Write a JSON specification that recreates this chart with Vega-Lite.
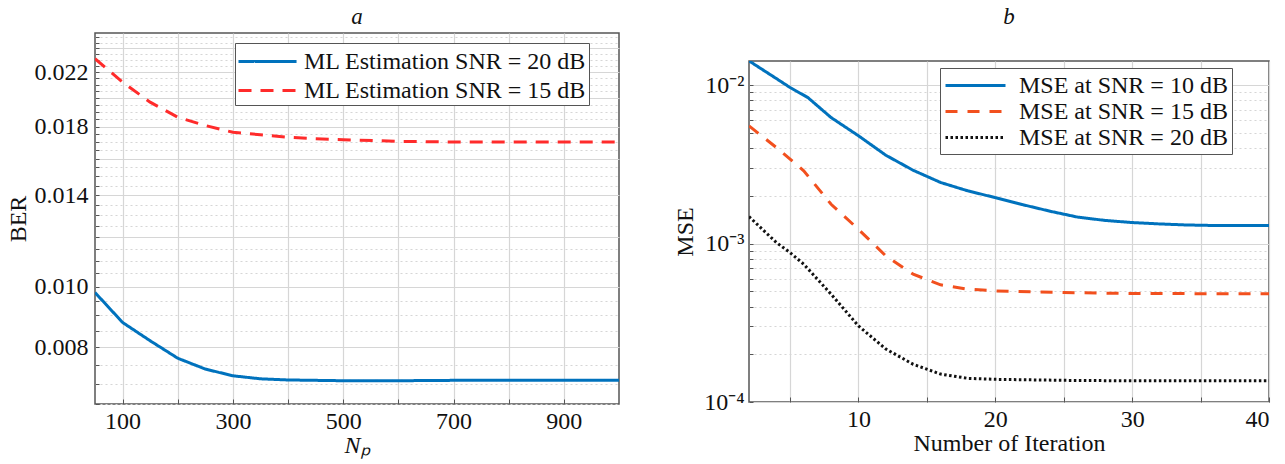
{
  "$schema": "https://vega.github.io/schema/vega-lite/v6.json",
  "background": "white",
  "padding": {"left": 5, "top": 5, "right": 5, "bottom": 5},
  "config": {
    "font": "Liberation Serif",
    "view": {"stroke": "#555555", "strokeWidth": 1.5},
    "axis": {
      "labelFont": "Liberation Serif", "titleFont": "Liberation Serif",
      "labelFontSize": 24, "titleFontSize": 24, "titleFontWeight": "normal",
      "labelColor": "#111111", "titleColor": "#111111",
      "domain": false, "tickColor": "#555555", "tickWidth": 1,
      "gridColor": "#d6d6d6", "gridOpacity": 1, "gridWidth": 1.2
    },
    "title": {"font": "Liberation Serif", "fontSize": 23, "fontStyle": "italic", "fontWeight": "normal", "color": "#111111"},
    "legend": {
      "labelFont": "Liberation Serif", "labelFontSize": 24, "labelColor": "#111111",
      "fillColor": "white", "strokeColor": "#555555",
      "symbolStrokeWidth": 3,
      "labelLimit": 600, "orient": "none"
    },
    "concat": {"spacing": 52}
  },
  "resolve": {"scale": {"color": "independent", "strokeDash": "independent"}},
  "datasets": {
    "ber": [
      {"Np": 50, "BER": 0.00979, "series": "ML Estimation SNR = 20 dB"},
      {"Np": 100, "BER": 0.00877, "series": "ML Estimation SNR = 20 dB"},
      {"Np": 150, "BER": 0.0082, "series": "ML Estimation SNR = 20 dB"},
      {"Np": 200, "BER": 0.00769, "series": "ML Estimation SNR = 20 dB"},
      {"Np": 250, "BER": 0.00739, "series": "ML Estimation SNR = 20 dB"},
      {"Np": 300, "BER": 0.00721, "series": "ML Estimation SNR = 20 dB"},
      {"Np": 350, "BER": 0.00713, "series": "ML Estimation SNR = 20 dB"},
      {"Np": 400, "BER": 0.0071, "series": "ML Estimation SNR = 20 dB"},
      {"Np": 450, "BER": 0.00709, "series": "ML Estimation SNR = 20 dB"},
      {"Np": 500, "BER": 0.00708, "series": "ML Estimation SNR = 20 dB"},
      {"Np": 600, "BER": 0.00708, "series": "ML Estimation SNR = 20 dB"},
      {"Np": 700, "BER": 0.00709, "series": "ML Estimation SNR = 20 dB"},
      {"Np": 800, "BER": 0.00709, "series": "ML Estimation SNR = 20 dB"},
      {"Np": 900, "BER": 0.00709, "series": "ML Estimation SNR = 20 dB"},
      {"Np": 1000, "BER": 0.00709, "series": "ML Estimation SNR = 20 dB"},
      {"Np": 50, "BER": 0.02311, "series": "ML Estimation SNR = 15 dB"},
      {"Np": 100, "BER": 0.0212, "series": "ML Estimation SNR = 15 dB"},
      {"Np": 150, "BER": 0.0197, "series": "ML Estimation SNR = 15 dB"},
      {"Np": 200, "BER": 0.01864, "series": "ML Estimation SNR = 15 dB"},
      {"Np": 250, "BER": 0.01808, "series": "ML Estimation SNR = 15 dB"},
      {"Np": 300, "BER": 0.01764, "series": "ML Estimation SNR = 15 dB"},
      {"Np": 350, "BER": 0.01748, "series": "ML Estimation SNR = 15 dB"},
      {"Np": 400, "BER": 0.01732, "series": "ML Estimation SNR = 15 dB"},
      {"Np": 450, "BER": 0.01722, "series": "ML Estimation SNR = 15 dB"},
      {"Np": 500, "BER": 0.01716, "series": "ML Estimation SNR = 15 dB"},
      {"Np": 600, "BER": 0.01706, "series": "ML Estimation SNR = 15 dB"},
      {"Np": 700, "BER": 0.01702, "series": "ML Estimation SNR = 15 dB"},
      {"Np": 800, "BER": 0.01702, "series": "ML Estimation SNR = 15 dB"},
      {"Np": 900, "BER": 0.01702, "series": "ML Estimation SNR = 15 dB"},
      {"Np": 1000, "BER": 0.01702, "series": "ML Estimation SNR = 15 dB"}
    ],
    "mse": [
      {"it": 2, "MSE": 0.01422, "series": "MSE at SNR = 10 dB"},
      {"it": 4, "MSE": 0.0110, "series": "MSE at SNR = 10 dB"},
      {"it": 5, "MSE": 0.00966, "series": "MSE at SNR = 10 dB"},
      {"it": 6.3, "MSE": 0.00835, "series": "MSE at SNR = 10 dB"},
      {"it": 8, "MSE": 0.00624, "series": "MSE at SNR = 10 dB"},
      {"it": 10, "MSE": 0.00479, "series": "MSE at SNR = 10 dB"},
      {"it": 12, "MSE": 0.00361, "series": "MSE at SNR = 10 dB"},
      {"it": 14, "MSE": 0.0029, "series": "MSE at SNR = 10 dB"},
      {"it": 16, "MSE": 0.00243, "series": "MSE at SNR = 10 dB"},
      {"it": 18, "MSE": 0.00215, "series": "MSE at SNR = 10 dB"},
      {"it": 20, "MSE": 0.00195, "series": "MSE at SNR = 10 dB"},
      {"it": 22, "MSE": 0.00176, "series": "MSE at SNR = 10 dB"},
      {"it": 24, "MSE": 0.0016, "series": "MSE at SNR = 10 dB"},
      {"it": 26, "MSE": 0.00147, "series": "MSE at SNR = 10 dB"},
      {"it": 28, "MSE": 0.0014, "series": "MSE at SNR = 10 dB"},
      {"it": 30, "MSE": 0.001357, "series": "MSE at SNR = 10 dB"},
      {"it": 32, "MSE": 0.00133, "series": "MSE at SNR = 10 dB"},
      {"it": 34, "MSE": 0.00131, "series": "MSE at SNR = 10 dB"},
      {"it": 36, "MSE": 0.0013, "series": "MSE at SNR = 10 dB"},
      {"it": 38, "MSE": 0.0013, "series": "MSE at SNR = 10 dB"},
      {"it": 40, "MSE": 0.0013, "series": "MSE at SNR = 10 dB"},
      {"it": 2, "MSE": 0.00553, "series": "MSE at SNR = 15 dB"},
      {"it": 4, "MSE": 0.00404, "series": "MSE at SNR = 15 dB"},
      {"it": 6, "MSE": 0.00288, "series": "MSE at SNR = 15 dB"},
      {"it": 8, "MSE": 0.00177, "series": "MSE at SNR = 15 dB"},
      {"it": 10, "MSE": 0.00123, "series": "MSE at SNR = 15 dB"},
      {"it": 12, "MSE": 0.000836, "series": "MSE at SNR = 15 dB"},
      {"it": 14, "MSE": 0.00064, "series": "MSE at SNR = 15 dB"},
      {"it": 16, "MSE": 0.000549, "series": "MSE at SNR = 15 dB"},
      {"it": 18, "MSE": 0.000515, "series": "MSE at SNR = 15 dB"},
      {"it": 20, "MSE": 0.000503, "series": "MSE at SNR = 15 dB"},
      {"it": 25, "MSE": 0.000491, "series": "MSE at SNR = 15 dB"},
      {"it": 30, "MSE": 0.000484, "series": "MSE at SNR = 15 dB"},
      {"it": 35, "MSE": 0.000483, "series": "MSE at SNR = 15 dB"},
      {"it": 40, "MSE": 0.000483, "series": "MSE at SNR = 15 dB"},
      {"it": 2, "MSE": 0.00148, "series": "MSE at SNR = 20 dB"},
      {"it": 4, "MSE": 0.001015, "series": "MSE at SNR = 20 dB"},
      {"it": 5, "MSE": 0.000877, "series": "MSE at SNR = 20 dB"},
      {"it": 6, "MSE": 0.000741, "series": "MSE at SNR = 20 dB"},
      {"it": 8, "MSE": 0.000479, "series": "MSE at SNR = 20 dB"},
      {"it": 10, "MSE": 0.000302, "series": "MSE at SNR = 20 dB"},
      {"it": 12, "MSE": 0.000216, "series": "MSE at SNR = 20 dB"},
      {"it": 14, "MSE": 0.000173, "series": "MSE at SNR = 20 dB"},
      {"it": 16, "MSE": 0.00015, "series": "MSE at SNR = 20 dB"},
      {"it": 18, "MSE": 0.000141, "series": "MSE at SNR = 20 dB"},
      {"it": 20, "MSE": 0.000139, "series": "MSE at SNR = 20 dB"},
      {"it": 25, "MSE": 0.000137, "series": "MSE at SNR = 20 dB"},
      {"it": 30, "MSE": 0.000136, "series": "MSE at SNR = 20 dB"},
      {"it": 35, "MSE": 0.000136, "series": "MSE at SNR = 20 dB"},
      {"it": 40, "MSE": 0.000136, "series": "MSE at SNR = 20 dB"}
    ]
  },
  "hconcat": [
    {
      "title": {"text": "a", "offset": 4},
      "width": 524,
      "height": 371,
      "data": {"name": "ber"},
      "mark": {"type": "line", "strokeWidth": 3, "clip": true},
      "encoding": {
        "x": {
          "field": "Np", "type": "quantitative",
          "scale": {"domain": [50, 1000], "nice": false},
          "axis": {
            "title": "Nₚ", "titleFontStyle": "italic", "titlePadding": 0,
            "values": [100, 200, 300, 400, 500, 600, 700, 800, 900],
            "labelExpr": "datum.value % 200 == 100 ? datum.label : ''",
            "tickSize": -5, "labelPadding": 10
          }
        },
        "y": {
          "field": "BER", "type": "quantitative",
          "scale": {"type": "log", "domain": [0.0065, 0.0254], "nice": false},
          "axis": {
            "title": "BER", "titlePadding": 4,
            "values": [0.0065, 0.007, 0.0075, 0.008, 0.0085, 0.009, 0.0095, 0.01, 0.0105, 0.011, 0.0115, 0.012, 0.0125, 0.013, 0.0135, 0.014, 0.0145, 0.015, 0.0155, 0.016, 0.0165, 0.017, 0.0175, 0.018, 0.0185, 0.019, 0.0195, 0.02, 0.0205, 0.021, 0.0215, 0.022, 0.0225, 0.023, 0.0235, 0.024, 0.0245, 0.025],
            "labelExpr": "indexof([0.008, 0.01, 0.014, 0.018, 0.022], datum.value) >= 0 ? format(datum.value, '.3f') : ''",
            "tickSize": -4, "labelPadding": 11,
            "gridDash": {"condition": {"test": "indexof([0.008, 0.01, 0.012, 0.014, 0.016, 0.018, 0.02, 0.022, 0.024], datum.value) >= 0", "value": []}, "value": [2, 3]}
          }
        },
        "color": {
          "field": "series", "type": "nominal",
          "scale": {"domain": ["ML Estimation SNR = 20 dB", "ML Estimation SNR = 15 dB"], "range": ["#0072BD", "#FF2B2B"]},
          "legend": {"title": null, "legendX": 140, "legendY": 10, "padding": 2, "rowPadding": -1, "symbolType": "M-1,0H2.87", "symbolSize": 900, "labelOffset": 34, "labelFont": "Liberation Serif"}
        },
        "strokeDash": {
          "field": "series", "type": "nominal",
          "scale": {"domain": ["ML Estimation SNR = 20 dB", "ML Estimation SNR = 15 dB"], "range": [[1, 0], [13, 9]]},
          "legend": {"title": null, "legendX": 140, "legendY": 10, "padding": 2, "rowPadding": -1, "symbolType": "M-1,0H2.87", "symbolSize": 900, "labelOffset": 34, "labelFont": "Liberation Serif"}
        }
      }
    },
    {
      "spacing": 0,
      "vconcat": [
        {
          "title": {"text": "b", "offset": 4},
          "width": 520,
          "height": 27,
          "view": {"stroke": null},
          "data": {"values": [{"t": ""}]},
          "mark": {"type": "text"},
          "encoding": {"text": {"field": "t"}}
        },
        {
          "width": 520,
          "height": 341,
          "data": {"name": "mse"},
          "mark": {"type": "line", "strokeWidth": 3, "clip": true},
          "encoding": {
            "x": {
              "field": "it", "type": "quantitative",
              "scale": {"domain": [2, 40], "nice": false},
              "axis": {
                "title": "Number of Iteration", "titlePadding": 0,
                "values": [5, 10, 15, 20, 25, 30, 35, 40],
                "labelExpr": "datum.value % 10 == 0 ? datum.label : ''",
                "tickSize": -5, "labelPadding": 10
              }
            },
            "y": {
              "field": "MSE", "type": "quantitative",
              "scale": {"type": "log", "domain": [0.0001, 0.0142], "nice": false},
              "axis": {
                "title": "MSE", "titlePadding": 6,
                "values": [0.0001, 0.0002, 0.0003, 0.0004, 0.0005, 0.0006, 0.0007, 0.0008, 0.0009, 0.001, 0.002, 0.003, 0.004, 0.005, 0.006, 0.007, 0.008, 0.009, 0.01],
                "labelExpr": "datum.value == 0.01 ? '10⁻²' : datum.value == 0.001 ? '10⁻³' : datum.value == 0.0001 ? '10⁻⁴' : ''",
                "tickSize": -4, "labelPadding": 9,
                "gridDash": {"condition": {"test": "indexof([0.0001, 0.001, 0.01], datum.value) >= 0", "value": []}, "value": [2, 3]}
              }
            },
            "color": {
              "field": "series", "type": "nominal",
              "scale": {"domain": ["MSE at SNR = 10 dB", "MSE at SNR = 15 dB", "MSE at SNR = 20 dB"], "range": ["#0072BD", "#F2501E", "#111111"]},
              "legend": {"title": null, "legendX": 191, "legendY": 35, "padding": 4, "rowPadding": -4, "symbolType": "M-1,0H4", "symbolSize": 576, "labelOffset": 48, "labelFont": "Liberation Serif"}
            },
            "strokeDash": {
              "field": "series", "type": "nominal",
              "scale": {"domain": ["MSE at SNR = 10 dB", "MSE at SNR = 15 dB", "MSE at SNR = 20 dB"], "range": [[1, 0], [12, 10], [2.5, 2.5]]},
              "legend": {"title": null, "legendX": 191, "legendY": 35, "padding": 4, "rowPadding": -4, "symbolType": "M-1,0H4", "symbolSize": 576, "labelOffset": 48, "labelFont": "Liberation Serif"}
            }
          }
        }
      ]
    }
  ]
}
